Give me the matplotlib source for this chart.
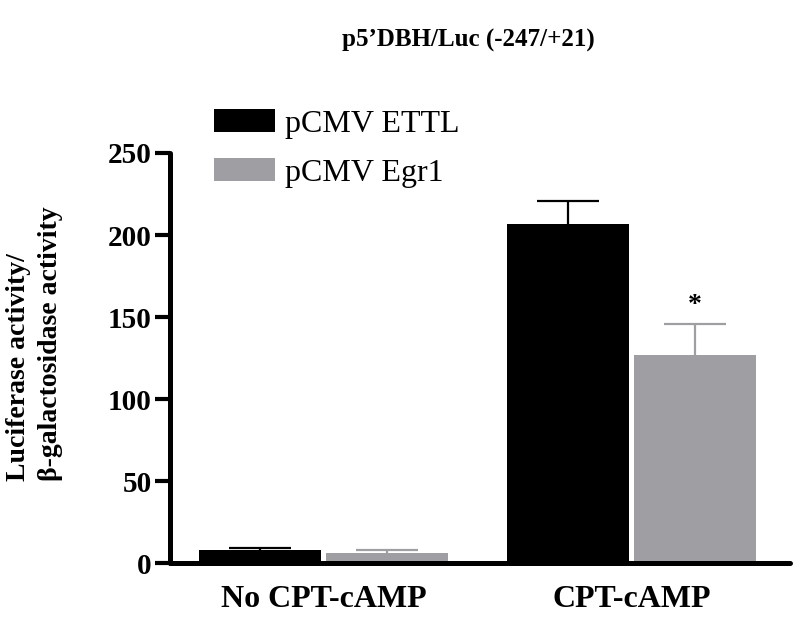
import matplotlib.pyplot as plt
import numpy as np

plt.rcParams['font.family'] = ['Liberation Serif', 'DejaVu Serif']

groups = ["No CPT-cAMP", "CPT-cAMP"]
series = ["pCMV ETTL", "pCMV Egr1"]
ettl = [8, 207]
ettl_err = [1, 14]
egr1 = [6, 127]
egr1_err = [2, 19]
colors = ["#000000", "#9e9ea3"]
yticks = [0, 50, 100, 150, 200, 250]

fig = plt.figure(figsize=(8, 6.21), dpi=100)
ax = fig.add_axes([170 / 800, 58 / 621, 620 / 800, 410 / 621])

x = np.arange(len(groups))
w = 0.396
off = 0.206

b1 = ax.bar(x - off, ettl, w, color=colors[0], label=series[0],
            yerr=[np.zeros(2), ettl_err], capsize=22,
            error_kw=dict(ecolor=colors[0], elinewidth=1.6, capthick=1.6))
b2 = ax.bar(x + off, egr1, w, color=colors[1], label=series[1],
            yerr=[np.zeros(2), egr1_err], capsize=22,
            error_kw=dict(ecolor=colors[1], elinewidth=1.6, capthick=1.6))
# only upper caps
for b in (b1, b2):
    caps = b.errorbar.lines[1]
    caps[0].set_visible(False)

# significance mark
ax.text(x[1] + off, egr1[1] + egr1_err[1] + 11, "*", ha="center", va="center",
        fontsize=20, fontweight="bold")

ax.set_xlim(-0.498, 1.515)
ax.set_ylim(0, 250)
ax.set_yticks(yticks)
ax.set_xticks(x)
ax.set_xticklabels(groups, fontsize=23, fontweight="bold")
ax.tick_params(axis="x", length=0, pad=16)
ax.tick_params(axis="y", length=11, width=3, pad=2, labelsize=21)
for lab in ax.get_yticklabels():
    lab.set_fontweight("bold")

for s in ["top", "right"]:
    ax.spines[s].set_visible(False)
for s in ["left", "bottom"]:
    ax.spines[s].set_linewidth(3.6)
    ax.spines[s].set_capstyle("round")

fig.text(6 / 800, 1 - 344 / 621, "Luciferase activity/\n\u03b2-galactosidase activity",
         rotation=90, ha="left", va="center", fontsize=20, fontweight="bold",
         linespacing=1.35)

fig.text(468 / 800, 1 - 40 / 621, "p5\u2019DBH/Luc (-247/+21)", ha="center", va="center",
         fontsize=18, fontweight="bold")

ax.legend(loc="upper left", bbox_to_anchor=(192 / 800, 1 - 87 / 621),
          bbox_transform=fig.transFigure, frameon=False, fontsize=23,
          handlelength=1.9, handleheight=0.72, handletextpad=0.3,
          labelspacing=0.6, borderpad=0.2)

fig.savefig("out.png", dpi=100)
